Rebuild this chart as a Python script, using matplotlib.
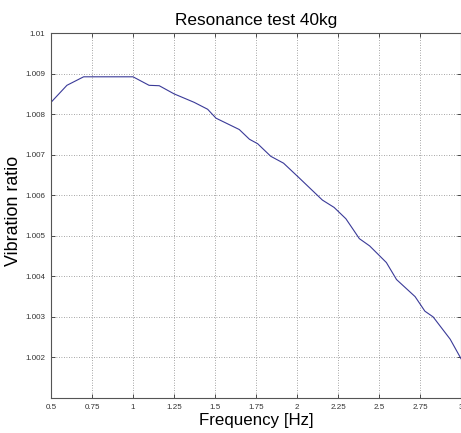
import matplotlib
matplotlib.use('Agg')
import matplotlib.pyplot as plt

# values
freq = [0.5, 0.597, 0.699, 1.0, 1.098, 1.16, 1.25, 1.373, 1.455, 1.506,
        1.648, 1.71, 1.76, 1.84, 1.918, 2.01, 2.155, 2.226, 2.298, 2.34,
        2.38, 2.443, 2.545, 2.607, 2.72, 2.78, 2.83, 2.934, 3.0]
ratio = [1.00829, 1.00871, 1.00892, 1.00892, 1.00871, 1.00870, 1.00850, 1.00829, 1.00812, 1.00790,
         1.00762, 1.00738, 1.00727, 1.00696, 1.00679, 1.00644, 1.00588, 1.00570, 1.00542, 1.00517,
         1.00493, 1.00475, 1.00434, 1.00392, 1.00350, 1.00314, 1.00300, 1.00245, 1.00197]

xticks = [0.5, 0.75, 1, 1.25, 1.5, 1.75, 2, 2.25, 2.5, 2.75, 3]
xtick_labels = ['0.5', '0.75', '1', '1.25', '1.5', '1.75', '2', '2.25', '2.5', '2.75', '3']
yticks = [1.002, 1.003, 1.004, 1.005, 1.006, 1.007, 1.008, 1.009, 1.01]
ytick_labels = ['1.002', '1.003', '1.004', '1.005', '1.006', '1.007', '1.008', '1.009', '1.01']

plt.rcParams['font.family'] = ['Liberation Sans', 'DejaVu Sans']

fig = plt.figure(figsize=(4.61, 4.33), dpi=100)
ax = fig.add_axes([51 / 461, 35 / 433, 410 / 461, 365 / 433])

ax.plot(freq, ratio, color='#3a3a98', lw=0.8)

ax.set_xlim(0.5, 3)
ax.set_ylim(1.001, 1.01)
ax.set_xticks(xticks)
ax.set_xticklabels(xtick_labels)
ax.set_yticks(yticks)
ax.set_yticklabels(ytick_labels)

ax.grid(True, linestyle=(0, (1, 2)), color='#888888', lw=0.6)
ax.tick_params(direction='in', length=3, width=0.6, labelsize=5.8,
               top=True, right=True, colors='#333333', pad=4)
for s in ax.spines.values():
    s.set_color('#555555')
    s.set_linewidth(0.8)

ax.set_title('Resonance test 40kg', fontsize=12.4, pad=6)
ax.set_xlabel('Frequency [Hz]', fontsize=12.2, labelpad=2)
ax.set_ylabel('Vibration ratio', fontsize=12.9, labelpad=0)
ax.yaxis.set_label_coords(-0.07, 0.513)

fig.savefig('out.png', dpi=100)
